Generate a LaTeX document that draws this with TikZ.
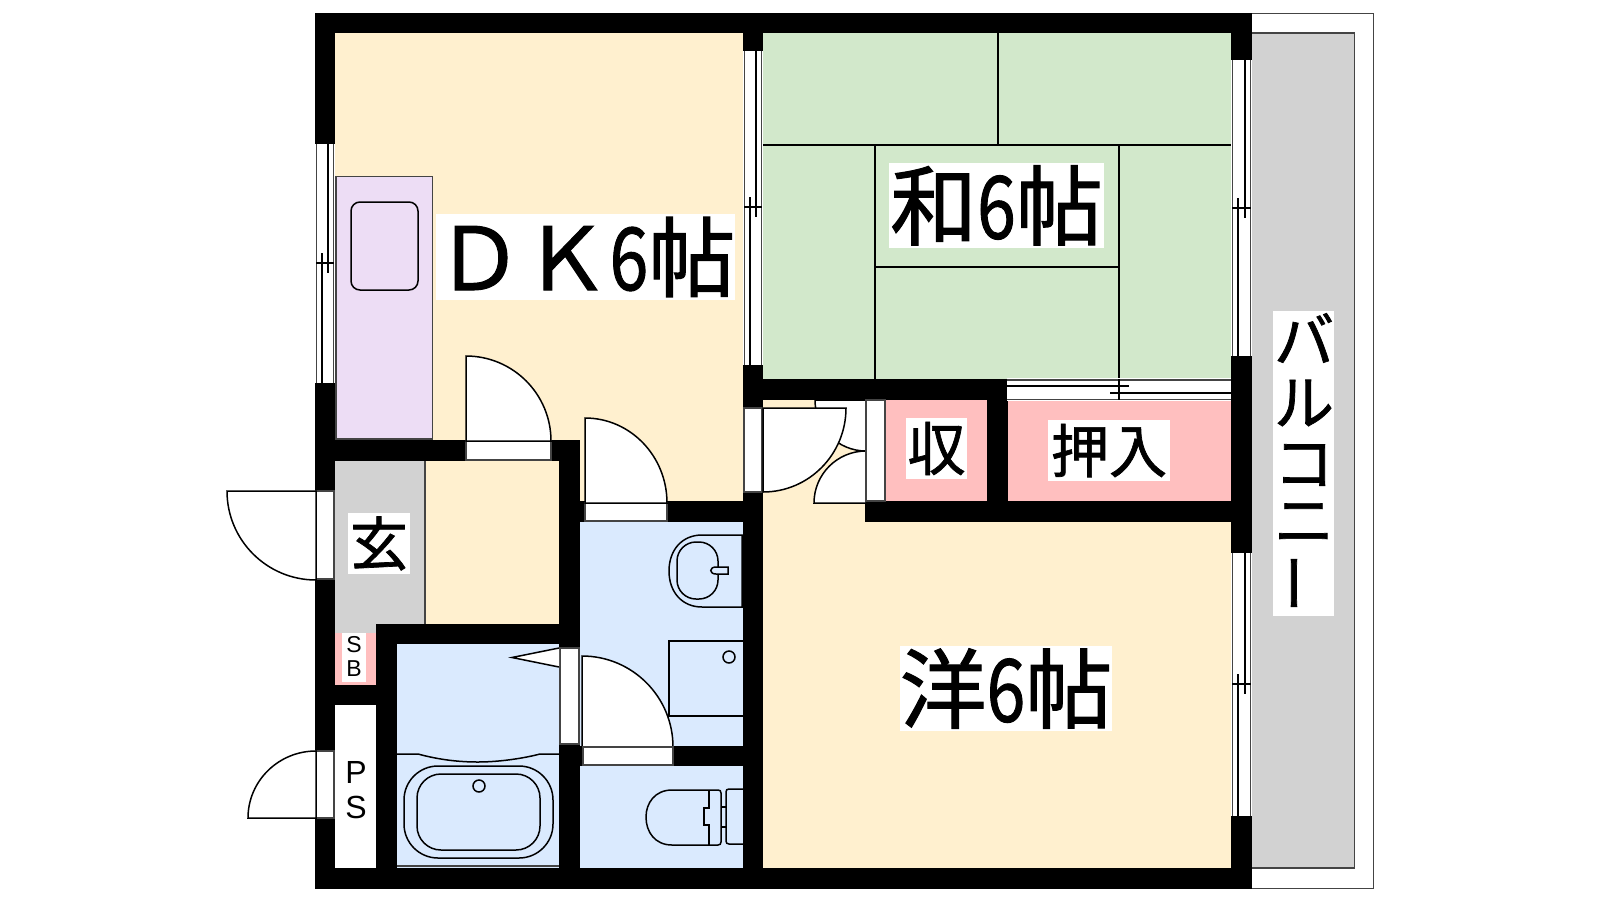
\documentclass[tikz,border=0pt]{standalone}
\usepackage{fontspec}
\setmainfont{Liberation Sans}
\newfontfamily\jp{Noto Sans CJK JP}[FakeBold=1.2]
\usetikzlibrary{calc}
\definecolor{cyel}{HTML}{FFF0CF}
\definecolor{cgrn}{HTML}{D2E8CB}
\definecolor{cblu}{HTML}{DAEAFE}
\definecolor{cpur}{HTML}{EDDDF5}
\definecolor{cpnk}{HTML}{FFBFBF}
\definecolor{cgry}{HTML}{D2D2D2}
\definecolor{cedge}{HTML}{444444}
\newcommand{\bx}[5]{\fill[#1] (#2,#3) rectangle (#4,#5);}
\newcommand{\wl}[4]{\fill[black] (#1,#2) rectangle (#3,#4);}
\newcommand{\frm}[4]{\draw[edge,fill=white] (#1,#2) rectangle (#3,#4);}
% vertical sliding window: x0 x1 y0 y1 ytick
\newcommand{\vwin}[5]{%
  \fill[white] (#1,#3) rectangle (#2,#4);
  \draw[edge] (#1+1.3,#3) -- (#1+1.3,#4) (#2-1.3,#3) -- (#2-1.3,#4);
  \draw[fine] (#1+1.3,#5) -- (#2-1.3,#5);
  \draw[fine] (#2-7,#3) -- (#2-7,#5+9.5);
  \draw[fine] (#1+7,#5-10) -- (#1+7,#4);}
% quarter door: centre, a, b
\newcommand{\door}[6]{%
  \draw[fine,fill=white] (#1,#2) -- (#3,#4)
   .. controls ({#3+0.5523*(#5-#1)},{#4+0.5523*(#6-#2)}) and ({#5+0.5523*(#3-#1)},{#6+0.5523*(#4-#2)}) .. (#5,#6) -- cycle;}
\tikzset{edge/.style={draw=cedge,line width=1.5pt},
  fine/.style={draw=black,line width=1.5pt},
  lab/.style={fill=white,inner sep=0pt,align=center,text=black},
  big/.style={lab,font=\jp\fontsize{87}{87}\selectfont},
  mid/.style={lab,font=\jp\fontsize{58}{58}\selectfont},
  kat/.style={inner sep=0pt,text=black,font=\jp\fontsize{60}{60}\selectfont}}
\begin{document}
\begin{tikzpicture}[x=1pt,y=-1pt]
\useasboundingbox (0,0) rectangle (1600,900);
\fill[white] (0,0) rectangle (1600,900);
% balcony
\draw[edge,fill=white] (1240,13.5) rectangle (1373.5,888.5);
\draw[edge,fill=cgry] (1240,33) rectangle (1354.5,868);
% room floors
\bx{cyel}{335}{33}{743}{440}
\bx{cyel}{580}{440}{743}{501}
\bx{cyel}{425}{461}{559}{624}
\bx{cgry}{335}{461}{425}{633}
\draw[edge] (425,461) -- (425,624);
\bx{cpnk}{335}{633}{376}{685}
\bx{white}{335}{705}{376}{868}
\bx{cblu}{397}{644}{559}{868}
\bx{cblu}{580}{522}{743}{746}
\bx{cblu}{580}{766}{743}{868}
\bx{cgrn}{763}{33}{1231}{379}
\bx{cyel}{763}{400}{866}{522}
\bx{cyel}{763}{522}{1231}{868}
\bx{cpnk}{886}{400}{987}{501}
\bx{cpnk}{1008}{400}{1231}{501}
% tatami
\draw[fine] (763,145) -- (1231,145) (998,33) -- (998,145) (875,267) -- (1119,267)
  (875,145) -- (875,379) (1119,145) -- (1119,379);
% walls
\wl{315}{13}{1252}{33}
\wl{315}{868}{1252}{889}
\wl{315}{13}{335}{889}
\wl{1231}{13}{1252}{889}
\wl{743}{33}{763}{889}
\wl{743}{379}{1007}{400}
\wl{987}{379}{1008}{501}
\wl{865}{501}{1252}{522}
\wl{335}{440}{580}{461}
\wl{559}{440}{580}{868}
\wl{580}{501}{743}{522}
\wl{376}{624}{580}{644}
\wl{376}{624}{397}{868}
\wl{335}{685}{376}{705}
\wl{580}{746}{743}{766}
% windows
\vwin{315}{335}{144}{383}{263}
\vwin{743}{763}{51}{365}{207}
\vwin{1231}{1252}{60}{356}{208}
\vwin{1231}{1252}{553}{816}{684}
\fill[white] (1007,378) rectangle (1231,401);
\draw[edge] (1007,380) -- (1231,380) (1007,399.5) -- (1231,399.5);
\draw[fine] (1007,386) -- (1129,386) (1110,393) -- (1231,393) (1119,379) -- (1119,400);
% door frames and doors
\frm{466}{441}{551}{460}
\door{466}{441}{466}{356}{551}{441}
\frm{585}{503}{667}{521}
\door{585}{503}{585}{418}{667}{503}
\frm{316}{491}{334}{579}
\door{316}{491}{227}{491}{316}{580}
\frm{316}{751}{334}{818}
\door{316}{818}{316}{751}{248}{818}
\fill[white] (743,408) rectangle (763,492);
\draw[edge] (744,408) rectangle (762,492);
\door{866}{400}{815}{400}{866}{451}
\door{866}{503}{814}{503}{866}{451}
\door{763}{408}{846}{408}{763}{492}
\frm{866}{400}{885}{501}
% bath sliding door
\frm{560}{648}{579}{744}
\draw[fine,fill=white] (559,648) -- (512,657.5) -- (559,667);
\door{582}{747}{582}{656}{673}{747}
\frm{583}{747}{673}{765}
% kitchen
\draw[edge,fill=cpur] (336,176.5) rectangle (432.5,439);
\draw[fine,rounded corners=9pt] (351,202) rectangle (418,290);
% wash basin
\draw[fine] (742,535) -- (702,535) .. controls (682,535) and (669,550) .. (669,571) .. controls (669,592) and (682,607) .. (702,607) -- (742,607) -- cycle;
\draw[fine,rounded corners=19pt] (677,542) rectangle (718,599);
\draw[fine,fill=cblu] (728,567) -- (716,567) .. controls (709,567) and (709,574) .. (716,574) -- (728,574) -- cycle;
% washing machine
\draw[fine] (743,641) -- (669,641) -- (669,716) -- (743,716);
\draw[fine] (729,657) circle[radius=6pt];
% bath
\draw[fine] (397,754) -- (418,754) .. controls (440,760) and (460,762) .. (478,762) .. controls (500,762) and (525,758) .. (540,754) -- (559,754);
\draw[edge] (397,866) -- (559,866);
\draw[fine,rounded corners=34pt] (404,766) rectangle (553,858);
\draw[fine,rounded corners=24pt] (417,774) rectangle (540,850);
\draw[fine] (479,786) circle[radius=6pt];
% toilet
\draw[fine] (743,789) -- (729,789) .. controls (727,789) and (726,790) .. (726,792) -- (726,841) .. controls (726,843) and (727,844) .. (729,844) -- (743,844);
\draw[fine] (721,807) -- (726,807) (721,827) -- (726,827);
\draw[fine] (718,790) -- (672,790) .. controls (655,790) and (646,803) .. (646,817) .. controls (646,832) and (655,845) .. (672,845) -- (718,845) .. controls (720,845) and (721,844) .. (721,842) -- (721,793) .. controls (721,791) and (720,790) .. (718,790);
\draw[fine] (709,790) -- (709,808) -- (704,808) -- (704,825) -- (709,825) -- (709,845);
% labels
\node[big,minimum width=299pt,minimum height=86pt] (dk) at (585.5,257) {ＤＫ\scalebox{0.8}[1]{6}帖};
\node[big,minimum width=215pt,minimum height=85pt] (wa) at (996.5,205.5) {和\scalebox{0.8}[1]{6}帖};
\node[big,minimum width=212pt,minimum height=85pt] (yo) at (1006,688.5) {洋\scalebox{0.8}[1]{6}帖};
\node[mid,minimum width=61pt,minimum height=61pt] (shu) at (936.5,448.5) {収};
\node[mid,minimum width=122pt,minimum height=61pt] (oshi) at (1109,450.5) {押入};
\node[mid,minimum width=62pt,minimum height=61pt] (gen) at (379,543.5) {玄};
\fill[white] (342,633) rectangle (366,682);
\node[inner sep=0pt,font=\fontsize{23}{23}\selectfont] (s1) at (354,645) {S};
\node[inner sep=0pt,font=\fontsize{23}{23}\selectfont] (b1) at (354,669) {B};
\node[inner sep=0pt,font=\fontsize{32}{32}\selectfont] (p2) at (356,772) {P};
\node[inner sep=0pt,font=\fontsize{32}{32}\selectfont] (s2) at (356,807) {S};
\fill[white] (1273,311) rectangle (1334,616);
\node[kat] (k1) at (1304,338) {バ};
\node[kat] (k2) at (1304,403) {ル};
\node[kat] (k3) at (1304,465) {コ};
\node[kat] (k4) at (1304,523) {ニ};
\node[kat,rotate=90] (k5) at (1304,583) {ー};
\end{tikzpicture}
\end{document}
